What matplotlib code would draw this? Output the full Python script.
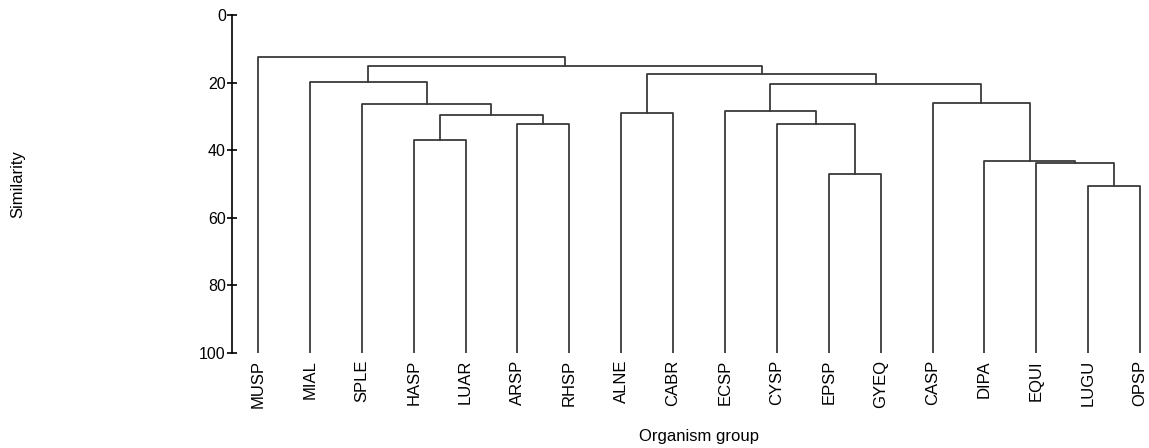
import matplotlib.pyplot as plt

plt.rcParams['font.family'] = ['Liberation Sans', 'DejaVu Sans']

# leaf order along the x axis
labels = ['MUSP', 'MIAL', 'SPLE', 'HASP', 'LUAR', 'ARSP', 'RHSP', 'ALNE', 'CABR',
          'ECSP', 'CYSP', 'EPSP', 'GYEQ', 'CASP', 'DIPA', 'EQUI', 'LUGU', 'OPSP']

# merges: ids < 18 are leaves, merge k gets id 18 + k
merge_left = [3, 5, 18, 2, 1, 7, 11, 10, 9, 16, 15, 14, 13, 26, 23, 22, 0]
merge_right = [4, 6, 19, 20, 21, 8, 12, 24, 25, 17, 27, 28, 29, 30, 31, 32, 33]
merge_height = [37.0, 32.2, 29.6, 26.2, 19.9, 29.1, 46.9, 32.3, 28.4,
                50.6, 43.9, 43.1, 26.0, 20.3, 17.6, 15.2, 12.3]

n = len(labels)
xpos = {i: float(i) for i in range(n)}
ypos = {i: 100.0 for i in range(n)}

fig = plt.figure(figsize=(11.49, 4.48), dpi=100)
ax = fig.add_axes([232 / 1149, 1 - 353 / 448, 1 - 232 / 1149, (353 - 15) / 448])

line_kw = dict(color='#3a3a3a', lw=1.3, solid_capstyle='projecting')
for k, (a, b, h) in enumerate(zip(merge_left, merge_right, merge_height)):
    xa, xb = xpos[a], xpos[b]
    ax.plot([xa, xa, xb, xb], [ypos[a], h, h, ypos[b]], **line_kw)
    xpos[n + k] = (xa + xb) / 2
    ypos[n + k] = h

ax.set_xlim(-0.5, 17.17)
ax.set_ylim(100, 0)
ax.set_yticks([0, 20, 40, 60, 80, 100])
ax.tick_params(axis='y', direction='inout', length=7, width=1.2, labelsize=11.5, pad=1)
ax.set_xticks(range(n))
ax.set_xticklabels(labels, rotation=90, fontsize=12)
ax.tick_params(axis='x', length=0, pad=5)

for side in ['top', 'right', 'bottom']:
    ax.spines[side].set_visible(False)
ax.spines['left'].set_linewidth(1.2)

fig.text(18 / 1149, 1 - 184 / 448, 'Similarity', rotation=90,
         ha='center', va='center', fontsize=12)
fig.text(699 / 1149, 1 - 436 / 448, 'Organism group',
         ha='center', va='center', fontsize=12)

fig.savefig('out.png', dpi=100)
